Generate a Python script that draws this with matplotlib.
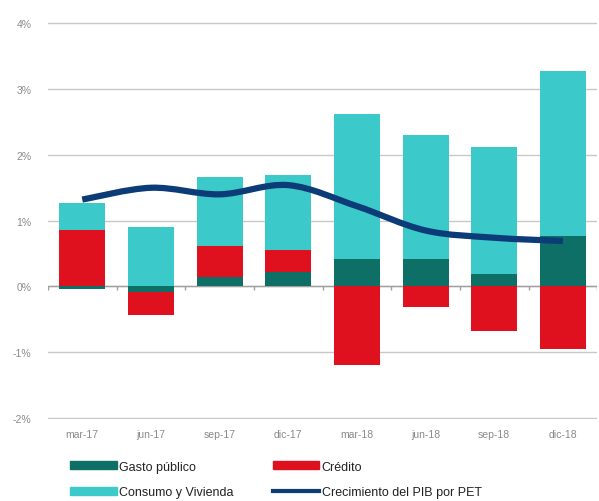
import numpy as np
import matplotlib
matplotlib.use("Agg")
import matplotlib.pyplot as plt
from matplotlib.patches import Patch, PathPatch
from matplotlib.lines import Line2D
from matplotlib.path import Path

# datos (puntos porcentuales)
trimestres = ["mar-17", "jun-17", "sep-17", "dic-17", "mar-18", "jun-18", "sep-18", "dic-18"]
gasto_publico = [-0.04, -0.08, 0.14, 0.22, 0.42, 0.42, 0.19, 0.76]
credito = [0.85, -0.35, 0.47, 0.34, -1.19, -0.31, -0.68, -0.96]
consumo_vivienda = [0.42, 0.90, 1.05, 1.13, 2.20, 1.89, 1.93, 2.52]
pib_por_pet = [1.32, 1.50, 1.40, 1.54, 1.22, 0.85, 0.74, 0.69]

COLORES = {
    "Gasto público": "#0e6f66",
    "Crédito": "#e0111f",
    "Consumo y Vivienda": "#3cc9ca",
    "Crecimiento del PIB por PET": "#0b3c78",
}

plt.rcParams['font.family'] = ['Liberation Sans', 'DejaVu Sans']

fig = plt.figure(figsize=(5.99, 5.02), dpi=100)
ax = fig.add_axes([0.080, 0.163, 0.917, 0.791])

x = np.arange(len(trimestres))
pos_base = np.zeros(len(x))
neg_base = np.zeros(len(x))
series = [("Gasto público", gasto_publico), ("Crédito", credito),
          ("Consumo y Vivienda", consumo_vivienda)]
for nombre, vals in series:
    vals = np.array(vals)
    base = np.where(vals >= 0, pos_base, neg_base)
    ax.bar(x, vals, bottom=base, width=0.67, color=COLORES[nombre], zorder=2)
    pos_base += np.where(vals >= 0, vals, 0)
    neg_base += np.where(vals < 0, vals, 0)

# línea suavizada (curva tipo Excel)
y = np.array(pib_por_pet)
verts = [(x[0], y[0])]
codes = [Path.MOVETO]
t = 0.5 / 3
for i in range(len(x) - 1):
    p0 = (x[i - 1], y[i - 1]) if i > 0 else (x[i], y[i])
    p3 = (x[i + 2], y[i + 2]) if i + 2 < len(x) else (x[i + 1], y[i + 1])
    c1 = (x[i] + (x[i + 1] - p0[0]) * t, y[i] + (y[i + 1] - p0[1]) * t)
    c2 = (x[i + 1] - (p3[0] - x[i]) * t, y[i + 1] - (p3[1] - y[i]) * t)
    verts += [c1, c2, (x[i + 1], y[i + 1])]
    codes += [Path.CURVE4] * 3
ax.add_patch(PathPatch(Path(verts, codes), fill=False, lw=4.5,
                       edgecolor=COLORES["Crecimiento del PIB por PET"],
                       capstyle='butt', joinstyle='round', zorder=3))

ax.set_xlim(-0.5, len(x) - 0.5)
ax.set_ylim(-2.02, 4.02)
ax.set_yticks(range(-2, 5))
ax.set_yticklabels([f"{v}%" for v in range(-2, 5)])
ax.yaxis.grid(True, color="#c8c8c8", lw=1.0, zorder=0)
ax.set_axisbelow(True)
ax.axhline(0, color="#a0a0a0", lw=1.0, zorder=1)
ax.vlines(np.arange(len(x) + 1) - 0.5, -0.05, 0, color="#a0a0a0", lw=1.0, zorder=1)

ax.set_xticks(x)
ax.set_xticklabels(trimestres)
ax.tick_params(axis='both', length=0, labelsize=7.5, labelcolor="#8a8a8a")
ax.tick_params(axis='x', pad=7)
ax.tick_params(axis='y', pad=12)
for s in ax.spines.values():
    s.set_visible(False)

# orden por columnas para que las filas queden como en el original
handles = [
    Patch(color=COLORES["Gasto público"], label="Gasto público"),
    Patch(color=COLORES["Consumo y Vivienda"], label="Consumo y Vivienda"),
    Patch(color=COLORES["Crédito"], label="Crédito"),
    Line2D([], [], color=COLORES["Crecimiento del PIB por PET"], lw=3,
           label="Crecimiento del PIB por PET"),
]
fig.legend(handles=handles, ncol=2, loc="upper left", bbox_to_anchor=(0.107, 0.093),
           frameon=False, fontsize=9, handlelength=3.7, handleheight=0.6,
           handletextpad=0.2, columnspacing=3.15, labelspacing=1.1, borderpad=0,
           labelcolor="#222222")

fig.savefig("out.png", dpi=100)
